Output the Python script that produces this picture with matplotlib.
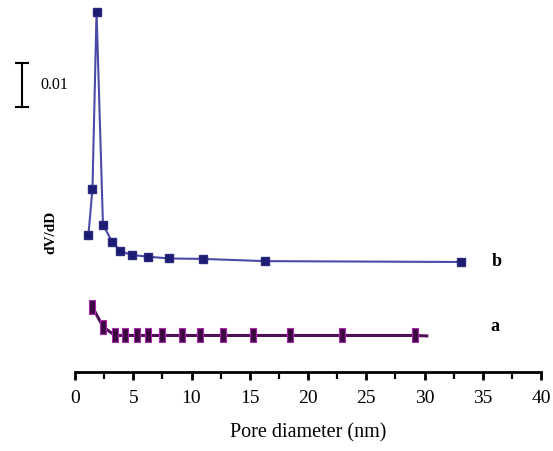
import matplotlib
matplotlib.use("Agg")
import matplotlib.pyplot as plt
import matplotlib.transforms as mtransforms
import numpy as np

plt.rcParams['font.family'] = ['Liberation Serif', 'DejaVu Serif']

# Series b (upper curve)
b_x = [1.15, 1.5, 1.85, 2.4, 3.2, 3.9, 4.85, 6.3, 8.1, 11.0, 16.3, 33.1]
b_y = [0.0311, 0.0417, 0.0819, 0.0335, 0.0295, 0.0275, 0.0266, 0.0262, 0.0258, 0.0257, 0.0252, 0.0250]

# Series a (lower curve)
a_x = [1.49, 2.40, 3.43, 4.29, 5.30, 6.29, 7.44, 9.16, 10.73, 12.73, 15.28, 18.45, 22.9, 29.2, 30.2]
a_y = [0.0148, 0.0103, 0.0083, 0.0083, 0.0083, 0.0083, 0.0083, 0.0083, 0.0083, 0.0083, 0.0083, 0.0083, 0.0083, 0.0083, 0.0082]

x_ticks = [0, 5, 10, 15, 20, 25, 30, 35, 40]
x_label = "Pore diameter (nm)"
y_label = "dV/dD"
scale_value = 0.01

fig = plt.figure(figsize=(5.53, 4.51), dpi=100)
ax = fig.add_axes([75/553, (451-372)/451, (541-75)/553, 372/451])
ax.set_xlim(0, 40)
ax.set_ylim(0, 372/4400)

for s in ['top', 'right', 'left']:
    ax.spines[s].set_visible(False)
ax.spines['bottom'].set_linewidth(2)
ax.set_yticks([])
ax.set_xticks(x_ticks)
ax.set_xticks(np.arange(0, 40.1, 2.5), minor=True)
ax.tick_params(axis='x', which='major', direction='out', length=6, width=2, labelsize=14, pad=7)
ax.tick_params(axis='x', which='minor', direction='out', length=5, width=1.6)

# series b
ax.plot(b_x, b_y, '-', color='#4a4aa8', lw=1.5, clip_on=False, zorder=2)
ax.plot(b_x, b_y, 's', color='#1c1c70', ms=6, mec='#2a2a80', clip_on=False, zorder=3, ls='none')

# series a
rect = [(-0.5, -1), (0.5, -1), (0.5, 1), (-0.5, 1), (-0.5, -1)]
ax.plot(a_x, a_y, '-', color='#501058', lw=2.2, clip_on=False, zorder=2)
ax.plot(a_x[:-1], a_y[:-1], marker=rect, ls='none', color='#3a0840', mec='#b028b0',
        mew=0.8, ms=10, clip_on=False, zorder=3)

ax.text(36.2, 0.0250, 'b', fontsize=13, ha='center', va='center', fontweight='bold')
ax.text(36.0, 0.01045, 'a', fontsize=13, ha='center', va='center', fontweight='bold')

ax.set_xlabel(x_label, fontsize=14.5, labelpad=12)

# scale bar
trans = mtransforms.blended_transform_factory(fig.transFigure, ax.transData)
y0 = (372-107)/4400
y1 = y0 + scale_value
xb = 22/553
ax.plot([xb, xb], [y0, y1], color='black', lw=1.5, transform=trans, clip_on=False)
for yy in (y0, y1):
    ax.plot([16/553, 28/553], [yy, yy], color='black', lw=1.5, transform=trans, clip_on=False)
ax.text(40/553, (y0+y1)/2, '0.01', fontsize=11.5, transform=trans, ha='left', va='center')

fig.text(51/553, 1 - 232/451, y_label, rotation=90, fontsize=11, fontweight='bold',
         ha='center', va='center')

fig.savefig('out.png', dpi=100)
